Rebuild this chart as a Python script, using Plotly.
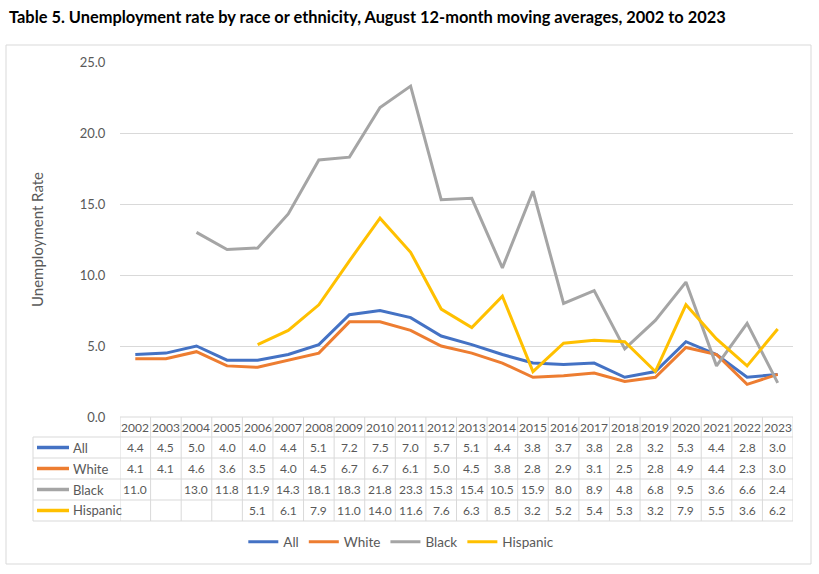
import plotly.graph_objects as go

years = [str(y) for y in range(2002, 2024)]
series_names = ["All", "White", "Black", "Hispanic"]
all_vals = [4.4, 4.5, 5.0, 4.0, 4.0, 4.4, 5.1, 7.2, 7.5, 7.0, 5.7, 5.1, 4.4, 3.8, 3.7, 3.8, 2.8, 3.2, 5.3, 4.4, 2.8, 3.0]
white_vals = [4.1, 4.1, 4.6, 3.6, 3.5, 4.0, 4.5, 6.7, 6.7, 6.1, 5.0, 4.5, 3.8, 2.8, 2.9, 3.1, 2.5, 2.8, 4.9, 4.4, 2.3, 3.0]
black_vals = [11.0, None, 13.0, 11.8, 11.9, 14.3, 18.1, 18.3, 21.8, 23.3, 15.3, 15.4, 10.5, 15.9, 8.0, 8.9, 4.8, 6.8, 9.5, 3.6, 6.6, 2.4]
hispanic_vals = [None, None, None, None, 5.1, 6.1, 7.9, 11.0, 14.0, 11.6, 7.6, 6.3, 8.5, 3.2, 5.2, 5.4, 5.3, 3.2, 7.9, 5.5, 3.6, 6.2]
colors = ["#4472C4", "#ED7D31", "#A5A5A5", "#FFC000"]
y_ticks = [0, 5, 10, 15, 20, 25]

series_vals = [all_vals, white_vals, black_vals, hispanic_vals]

W_PX, H_PX = 819, 574
L, R, T, B = 120, 793, 62, 417
PW, PH = R - L, B - T
FONT = "Lato"
TXT = "#595959"
GRID = "#D9D9D9"

def px_x(px):
    return (px - L) / PW

def px_y(py):
    return (B - py) / PH

fig = go.Figure()
xs = list(range(len(years)))
for name, vals, c in zip(series_names, series_vals, colors):
    fig.add_trace(go.Scatter(
        x=xs, y=vals, name=name, mode="lines",
        line=dict(color=c, width=3), connectgaps=False,
        hoverinfo="x+y",
    ))

shapes = []
annotations = []

# outer chart border
shapes.append(dict(type="rect", xref="paper", yref="paper",
                   x0=px_x(6), x1=px_x(811), y0=px_y(564), y1=px_y(45),
                   line=dict(color=GRID, width=1), fillcolor="rgba(0,0,0,0)", layer="below"))

# data table geometry
header_top, header_bot = 417, 437
row_h = 21
n_rows = len(series_names)
table_bottom = header_bot + row_h * n_rows
table_left = 33

line_style = dict(color=GRID, width=1)
for i in range(len(years) + 1):
    shapes.append(dict(type="line", xref="x", yref="paper",
                       x0=i - 0.5, x1=i - 0.5, y0=px_y(header_top), y1=px_y(table_bottom),
                       line=line_style))
shapes.append(dict(type="line", xref="paper", yref="paper",
                   x0=px_x(table_left), x1=px_x(table_left), y0=px_y(header_bot), y1=px_y(table_bottom),
                   line=line_style))
shapes.append(dict(type="line", xref="x", yref="paper", x0=-0.5, x1=len(years) - 0.5,
                   y0=px_y(header_top), y1=px_y(header_top), line=line_style))
for r in range(n_rows + 1):
    yy = px_y(header_bot + r * row_h)
    shapes.append(dict(type="line", xref="paper", yref="paper", x0=px_x(table_left), x1=1,
                       y0=yy, y1=yy, line=line_style))

cell_font = dict(family=FONT, size=12, color=TXT)
for i, yr in enumerate(years):
    annotations.append(dict(x=i, y=px_y((header_top + header_bot) / 2), xref="x", yref="paper",
                            text=yr, showarrow=False, font=cell_font,
                            xanchor="center", yanchor="middle"))
for r, (name, vals, c) in enumerate(zip(series_names, series_vals, colors)):
    yc = px_y(header_bot + r * row_h + row_h / 2)
    shapes.append(dict(type="line", xref="paper", yref="paper",
                       x0=px_x(37), x1=px_x(69), y0=yc, y1=yc,
                       line=dict(color=c, width=3.5)))
    annotations.append(dict(x=px_x(71), y=yc, xref="paper", yref="paper", text=name,
                            showarrow=False, font=dict(family=FONT, size=13, color=TXT),
                            xanchor="left", yanchor="middle"))
    for i, v in enumerate(vals):
        if v is None:
            continue
        annotations.append(dict(x=i, y=yc, xref="x", yref="paper", text=f"{v:.1f}",
                                showarrow=False, font=cell_font,
                                xanchor="center", yanchor="middle"))

annotations.append(dict(x=px_x(37), y=px_y(240), xref="paper", yref="paper",
                        text="Unemployment Rate", textangle=-90, showarrow=False,
                        font=dict(family=FONT, size=15, color=TXT),
                        xanchor="center", yanchor="middle"))

annotations.append(dict(x=px_x(7), y=px_y(5), xref="paper", yref="paper",
                        text="<b>Table 5. Unemployment rate by race or ethnicity, August 12-month moving averages, 2002 to 2023</b>",
                        showarrow=False, font=dict(family=FONT, size=16.4, color="#000000"),
                        xanchor="left", yanchor="top"))

fig.update_layout(
    width=W_PX, height=H_PX,
    margin=dict(l=L, r=W_PX - R, t=T, b=H_PX - B, autoexpand=False),
    paper_bgcolor="white", plot_bgcolor="white",
    showlegend=True,
    legend=dict(orientation="h", xref="container", yref="container",
                x=0.49, xanchor="center", y=1 - 542 / H_PX, yanchor="middle",
                font=dict(family=FONT, size=13.5, color=TXT), bgcolor="rgba(0,0,0,0)",
                itemwidth=30, tracegroupgap=0),
    xaxis=dict(range=[-0.5, len(years) - 0.5], showticklabels=False, showgrid=False,
               zeroline=False, showline=False, ticks="", fixedrange=True),
    yaxis=dict(range=[0, 25], tickvals=y_ticks, tickformat=".1f", showgrid=True,
               gridcolor=GRID, gridwidth=1, zeroline=False, showline=False,
               ticks="outside", ticklen=11, tickcolor="rgba(0,0,0,0)",
               tickfont=dict(family=FONT, size=13, color=TXT), fixedrange=True),
    shapes=shapes,
    annotations=annotations,
    font=dict(family=FONT, color=TXT),
)

fig.write_html("out.html", config={"displayModeBar": False},
               post_script="document.body.style.margin='0';document.body.style.padding='0';")
